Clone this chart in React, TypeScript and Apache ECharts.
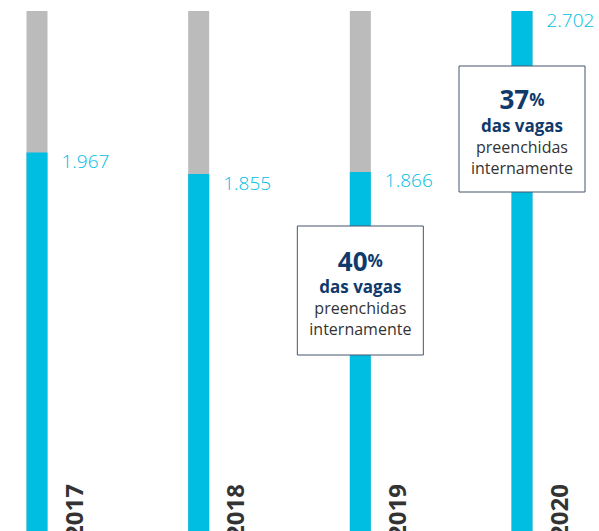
import React, { useEffect, useRef } from "react";
import * as echarts from "echarts";

const years = ["2017", "2018", "2019", "2020"];
const vagas = [1967, 1855, 1866, 2702];
const notes = [
  { year: "2019", pct: "40", top: 226, height: 129 },
  { year: "2020", pct: "37", top: 66, height: 126 },
];

const FONT = "'Open Sans', 'Noto Sans', sans-serif";
const CYAN = "#00bee2";
const NAVY = "#0f3a6b";

function fmt(v: number) {
  return String(v).replace(/\B(?=(\d{3})+(?!\d))/g, ".");
}

export default function App() {
  const ref = useRef<HTMLDivElement>(null);
  useEffect(() => {
    document.body.style.margin = "0";
    const chart = echarts.init(ref.current!, undefined, { renderer: "svg" });
    chart.setOption({
      animation: false,
      grid: { left: 37, right: 77, top: 11, bottom: -2 },
      xAxis: {
        type: "category",
        data: years,
        boundaryGap: false,
        show: false,
      },
      yAxis: { type: "value", min: 0, max: Math.max(...vagas), show: false },
      series: [
        {
          type: "bar",
          data: vagas,
          barWidth: 21,
          clip: false,
          itemStyle: { color: CYAN },
          showBackground: true,
          backgroundStyle: { color: "#bbbbbb" },
          label: {
            show: true,
            position: [35, -1],
            formatter: (p: any) => fmt(p.value),
            color: CYAN,
            fontFamily: FONT,
            fontWeight: 300,
            fontSize: 19,
          },
        },
      ],
    });

    const graphic: any[] = [];
    years.forEach((y) => {
      const px = chart.convertToPixel({ xAxisIndex: 0 }, y) as number;
      graphic.push({
        type: "text",
        x: px + 36,
        y: 539,
        z: 100,
        rotation: Math.PI / 2,
        style: {
          text: y,
          fill: "#333333",
          font: `bold 24px ${FONT}`,
          textAlign: "left",
          textVerticalAlign: "middle",
        },
      });
    });
    notes.forEach((n) => {
      const px = chart.convertToPixel({ xAxisIndex: 0 }, n.year) as number;
      graphic.push({
        type: "rect",
        z: 100,
        shape: { x: px - 63, y: n.top, width: 126, height: n.height },
        style: { fill: "#ffffff", stroke: "#46556f", lineWidth: 1 },
      });
      graphic.push({
        type: "text",
        z: 101,
        x: px,
        y: n.top + n.height / 2 + 2,
        style: {
          text: `{big|${n.pct}}{pct|%}\n{bold|das vagas}\n{reg|preenchidas}\n{reg|internamente}`,
          textAlign: "center",
          textVerticalAlign: "middle",
          rich: {
            big: { fontSize: 26, fontWeight: "bold", fill: NAVY, fontFamily: FONT, lineHeight: 30 },
            pct: { fontSize: 17, fontWeight: "bold", fill: NAVY, fontFamily: FONT, lineHeight: 30 },
            bold: { fontSize: 17, fontWeight: "bold", fill: NAVY, fontFamily: FONT, lineHeight: 22 },
            reg: { fontSize: 16, fill: "#333333", fontFamily: FONT, lineHeight: 21 },
          },
        },
      });
    });
    chart.setOption({ graphic });
    return () => chart.dispose();
  }, []);
  return (
    <div
      ref={ref}
      style={{ position: "absolute", left: 0, top: 0, width: 599, height: 531 }}
    />
  );
}
